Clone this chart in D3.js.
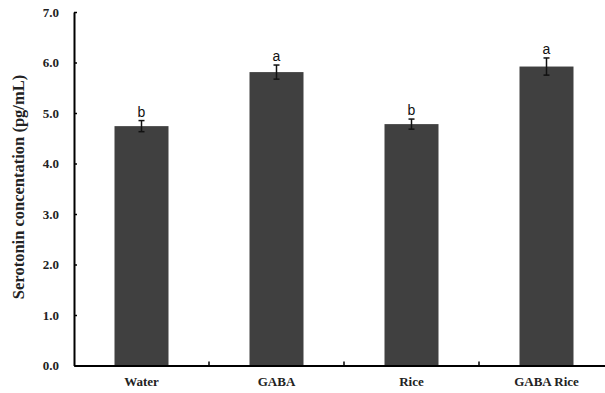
<!DOCTYPE html>
<html>
<head>
<meta charset="utf-8">
<script src="https://cdn.jsdelivr.net/npm/d3@7"></script>
<style>
  html, body { margin: 0; padding: 0; background: #fff; }
  svg { display: block; }
</style>
</head>
<body>
<svg id="chart" width="605" height="393"></svg>
<script>
// Serotonin concentration by treatment group
const categories = ["Water", "GABA", "Rice", "GABA Rice"];
const means = [4.74, 5.81, 4.78, 5.92];
const errors = [0.11, 0.14, 0.10, 0.17];
const letters = ["b", "a", "b", "a"];
const yTicks = [0, 1, 2, 3, 4, 5, 6, 7];

const svg = d3.select("#chart");
const plotLeft = 74, plotRight = 614, plotTop = 12, plotBottom = 365.5;

const x = d3.scaleBand().domain(categories).range([plotLeft, plotRight]).paddingInner(0).paddingOuter(0);
const y = d3.scaleLinear().domain([0, 7]).range([plotBottom, plotTop]);
const barW = 54;

// bars
svg.selectAll("rect.bar").data(categories).enter().append("rect")
  .attr("class", "bar")
  .attr("x", d => x(d) + x.bandwidth() / 2 - barW / 2)
  .attr("width", barW)
  .attr("y", (d, i) => y(means[i]))
  .attr("height", (d, i) => y(0) - y(means[i]))
  .attr("fill", "#404040");

// error bars
const eb = svg.selectAll("g.err").data(categories).enter().append("g").attr("class", "err")
  .attr("stroke", "#111").attr("stroke-width", 1.5);
eb.append("line")
  .attr("x1", d => x(d) + x.bandwidth() / 2).attr("x2", d => x(d) + x.bandwidth() / 2)
  .attr("y1", (d, i) => y(means[i] + errors[i])).attr("y2", (d, i) => y(means[i] - errors[i]));
eb.append("line")
  .attr("x1", d => x(d) + x.bandwidth() / 2 - 3).attr("x2", d => x(d) + x.bandwidth() / 2 + 3)
  .attr("y1", (d, i) => y(means[i] + errors[i])).attr("y2", (d, i) => y(means[i] + errors[i]));
eb.append("line")
  .attr("x1", d => x(d) + x.bandwidth() / 2 - 3).attr("x2", d => x(d) + x.bandwidth() / 2 + 3)
  .attr("y1", (d, i) => y(means[i] - errors[i])).attr("y2", (d, i) => y(means[i] - errors[i]));

// significance letters
svg.selectAll("text.sig").data(categories).enter().append("text")
  .attr("class", "sig")
  .attr("x", d => x(d) + x.bandwidth() / 2)
  .attr("y", (d, i) => y(means[i] + errors[i]) - 4)
  .attr("text-anchor", "middle")
  .attr("font-family", "Liberation Sans, Arial, sans-serif")
  .attr("font-size", 14)
  .attr("fill", "#111")
  .text((d, i) => letters[i]);

// y axis
const yAxis = d3.axisLeft(y).tickValues(yTicks).tickFormat(d3.format(".1f")).tickSizeInner(-3).tickSizeOuter(0).tickPadding(15);
const gy = svg.append("g").attr("transform", `translate(${plotLeft},0)`).call(yAxis);
gy.select(".domain").attr("stroke", "#000").attr("stroke-width", 2);
gy.selectAll(".tick line").attr("stroke", "#000").attr("stroke-width", 1.5);
gy.selectAll(".tick text")
  .attr("font-family", "Liberation Serif, Times New Roman, serif")
  .attr("font-weight", "bold").attr("font-size", 13).attr("fill", "#222");

// x axis
const xAxis = d3.axisBottom(x).tickSize(0).tickPadding(11);
const gx = svg.append("g").attr("transform", `translate(0,${plotBottom})`).call(xAxis);
gx.select(".domain").attr("stroke", "#000").attr("stroke-width", 2);
gx.selectAll(".tick text")
  .attr("font-family", "Liberation Serif, Times New Roman, serif")
  .attr("font-weight", "bold").attr("font-size", 13).attr("fill", "#222");
// category separators on the x axis
svg.append("g").selectAll("line").data(categories.slice(1)).enter().append("line")
  .attr("x1", d => x(d)).attr("x2", d => x(d))
  .attr("y1", plotBottom).attr("y2", plotBottom - 4)
  .attr("stroke", "#000").attr("stroke-width", 1.5);

// y axis title
svg.append("text")
  .attr("transform", "translate(24,187) rotate(-90)")
  .attr("text-anchor", "middle")
  .attr("font-family", "Liberation Serif, Times New Roman, serif")
  .attr("font-weight", "bold").attr("font-size", 16.5).attr("fill", "#222")
  .text("Serotonin concentation (pg/mL)");
</script>
</body>
</html>
